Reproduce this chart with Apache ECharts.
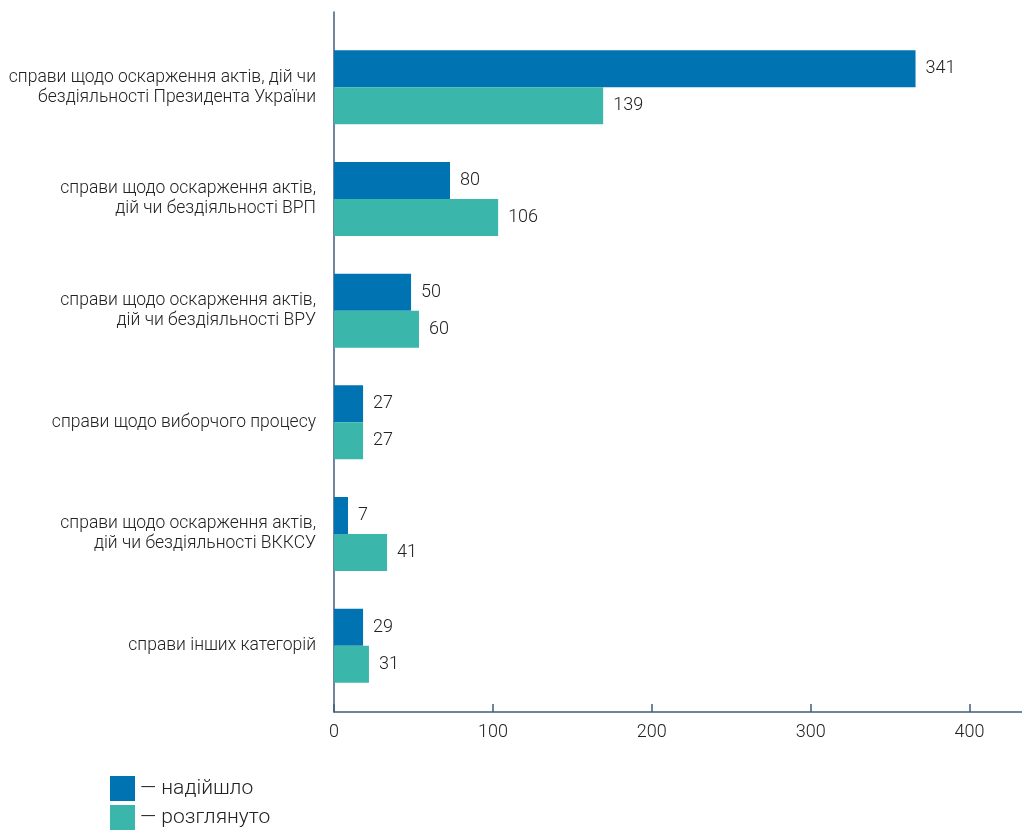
<!DOCTYPE html>
<html>
<head>
<meta charset="utf-8">
<script src="https://cdn.jsdelivr.net/npm/echarts@6/dist/echarts.min.js"></script>
<style>
  html, body { margin: 0; padding: 0; background: #ffffff; }
  #chart { width: 1022px; height: 833px; }
</style>
</head>
<body>
<div id="chart"></div>
<script>
// Categories (top to bottom)
const categories = [
  'справи щодо оскарження актів, дій чи\nбездіяльності Президента України',
  'справи щодо оскарження актів,\nдій чи бездіяльності ВРП',
  'справи щодо оскарження актів,\nдій чи бездіяльності ВРУ',
  'справи щодо виборчого процесу',
  'справи щодо оскарження актів,\nдій чи бездіяльності ВККСУ',
  'справи інших категорій'
];
// Printed value labels
const receivedLabels = [341, 80, 50, 27, 7, 29];
const reviewedLabels = [139, 106, 60, 27, 41, 31];
// Bar lengths as read against the x axis in the picture
const receivedBars = [366, 73, 48.5, 18.3, 8.8, 18.3];
const reviewedBars = [169.4, 103.3, 53.5, 18.3, 33.4, 22];
const seriesNames = ['надійшло', 'розглянуто'];
const axisMin = 0, axisMax = 433, axisInterval = 100;

const FONT = 'Roboto, "Noto Sans", sans-serif';
const FW = 300;
const TXT = '#222222';
const AXIS = '#435d78';
const BLUE = '#0073b2';
const TEAL = '#3ab7aa';

function legendFor(name, top) {
  return {
    left: 110, top: top, icon: 'rect', padding: 0,
    itemWidth: 25, itemHeight: 25,
    data: [name],
    formatter: n => '— ' + n,
    textStyle: { fontSize: 21, lineHeight: 25, padding: [10, 0, 0, 0], color: TXT, fontFamily: FONT, fontWeight: FW }
  };
}

const chart = echarts.init(document.getElementById('chart'), null, { renderer: 'canvas' });
chart.setOption({
  animation: false,
  textStyle: { fontFamily: FONT, fontWeight: FW },
  legend: [legendFor(seriesNames[0], 771), legendFor(seriesNames[1], 800)],
  grid: [
    { left: 334, right: 0, top: 31.5, height: 670 },
    { left: 334, right: 0, top: 12, height: 700 }
  ],
  xAxis: [
    { gridIndex: 0, type: 'value', min: axisMin, max: axisMax, interval: axisInterval, show: false },
    {
      gridIndex: 1, type: 'value', min: axisMin, max: axisMax, interval: axisInterval,
      axisLine: { show: true, lineStyle: { color: AXIS, width: 1.5 } },
      axisTick: { show: true, inside: true, length: 8, lineStyle: { color: AXIS, width: 1.5 } },
      splitLine: { show: false },
      axisLabel: { fontSize: 18, color: TXT, margin: 11, fontFamily: FONT, fontWeight: FW, showMaxLabel: false }
    }
  ],
  yAxis: [
    {
      gridIndex: 0, type: 'category', inverse: true, data: categories,
      axisLine: { show: false }, axisTick: { show: false },
      axisLabel: { fontSize: 17.5, lineHeight: 20, color: TXT, margin: 18, fontFamily: FONT, fontWeight: FW, align: 'right' }
    },
    {
      gridIndex: 1, type: 'value', min: 0, max: 1,
      axisLine: { show: true, lineStyle: { color: AXIS, width: 1.5 } },
      axisTick: { show: false }, axisLabel: { show: false }, splitLine: { show: false }
    }
  ],
  series: [
    {
      name: seriesNames[0], type: 'bar', xAxisIndex: 0, yAxisIndex: 0,
      data: receivedBars, barWidth: 37, barGap: '0%',
      itemStyle: { color: BLUE },
      label: { show: true, position: 'right', distance: 10, fontSize: 18, color: TXT, fontFamily: FONT, fontWeight: FW,
        formatter: p => String(receivedLabels[p.dataIndex]) }
    },
    {
      name: seriesNames[1], type: 'bar', xAxisIndex: 0, yAxisIndex: 0,
      data: reviewedBars, barWidth: 37, barGap: '0%',
      itemStyle: { color: TEAL },
      label: { show: true, position: 'right', distance: 10, fontSize: 18, color: TXT, fontFamily: FONT, fontWeight: FW,
        formatter: p => String(reviewedLabels[p.dataIndex]) }
    }
  ]
});
</script>
</body>
</html>
